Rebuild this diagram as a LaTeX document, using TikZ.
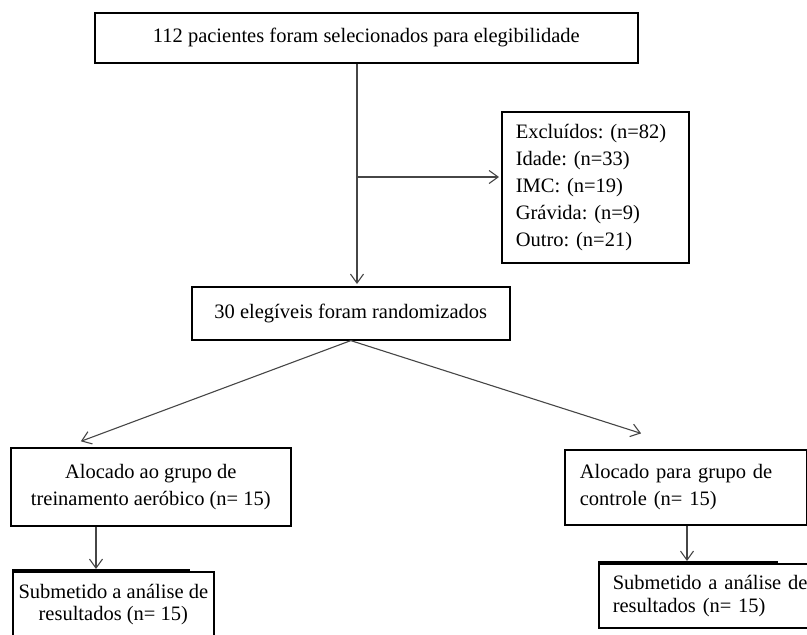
\documentclass[tikz,border=0pt]{standalone}
\usepackage{fontspec}
\setmainfont{Liberation Serif}
\usepackage{tikz}
\usetikzlibrary{arrows.meta}
\definecolor{linhacinza}{RGB}{70,70,70}
\frenchspacing
\tikzset{
    caixa/.style={draw=black, line width=1.6pt, anchor=north west, font=\fontsize{20.5}{27}\selectfont},
    seta/.style={draw=linhacinza, line width=1.1pt, shorten >=2pt, -{Straight Barb[length=9pt,width=13pt]}},
    borda/.style={draw=black, line width=2.5pt}
}

\begin{document}
\begin{tikzpicture}[x=1pt, y=-1pt]
    \useasboundingbox (0,0) rectangle (807,635);
    \node[caixa, minimum width=543pt, minimum height=50pt] (selec) at (94,12) {112 pacientes foram selecionados para elegibilidade};
    \node[caixa, minimum width=187pt, minimum height=151pt, text width=159pt, inner xsep=14pt, align=left] (excl) at (501,111) {Excluídos: (n=82)\\ Idade: (n=33)\\ IMC: (n=19)\\ Grávida: (n=9)\\ Outro: (n=21)};
    \node[caixa, minimum width=318pt, minimum height=53pt] (rand) at (191,286) {30 elegíveis foram randomizados};
    \node[caixa, minimum width=280pt, minimum height=78pt, align=center] (alocA) at (10,447) {Alocado ao grupo de\\ treinamento aeróbico (n= 15)};
    \node[caixa, minimum width=242pt, minimum height=75pt, text width=212pt, inner xsep=15pt, align=left] (alocB) at (564,449) {Alocado para grupo de\\ controle (n= 15)};
    \node[caixa, minimum width=201pt, minimum height=65pt, inner xsep=4pt, align=center, font=\fontsize{20.5}{22.5}\selectfont] (subA) at (12,571) {Submetido a análise de\\ resultados (n= 15)};
    \node[caixa, minimum width=230pt, minimum height=64pt, text width=202pt, inner xsep=14pt, align=left, font=\fontsize{20.5}{22.5}\selectfont] (subB) at (598,563) {Submetido a análise de\\ resultados (n= 15)};
    \draw[borda] ([yshift=1pt]subA.north west) -- ++(178,0);
    \draw[borda] ([yshift=1pt]subB.north west) -- ++(180,0);
    \coordinate (eixo) at (357,177);
    \draw[seta] (selec.south -| eixo) -- (rand.north -| eixo);
    \draw[seta] (eixo) -- (eixo -| excl.west);
    \coordinate (alvoA) at (79,442);
    \coordinate (alvoB) at (643,434);
    \draw[seta] (rand.south) -- (alvoA);
    \draw[seta] (rand.south) -- (alvoB);
    \coordinate (descA) at (96,550);
    \coordinate (descB) at (687,545);
    \draw[seta] (alocA.south -| descA) -- (subA.north -| descA);
    \draw[seta] (alocB.south -| descB) -- (subB.north -| descB);
\end{tikzpicture}
\end{document}
